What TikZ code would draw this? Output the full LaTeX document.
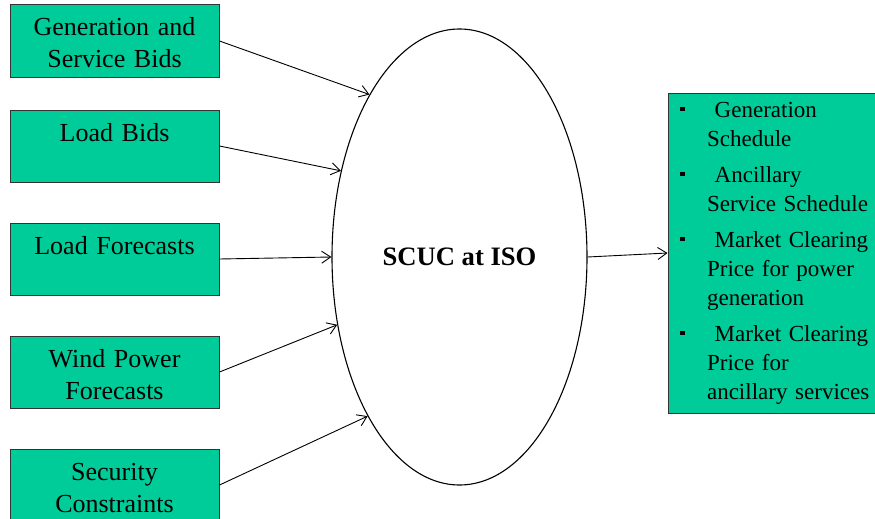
\documentclass[tikz,border=0pt]{standalone}
\usepackage{fontspec}
\setmainfont{Liberation Serif}
\usepackage{tikz}
\usetikzlibrary{shapes.geometric,arrows.meta}
\usetikzlibrary{positioning}
\definecolor{boxgreen}{RGB}{0,204,153}
\tikzstyle{arrow} = [line width=0.9pt,-{Straight Barb[length=9pt,width=12pt]}]
\tikzstyle{inbox} = [
    rectangle, minimum width=209pt, minimum height=72pt, text width=195pt, align=center,
    inner xsep=7pt, inner ysep=0pt, text height=31pt, text depth=41pt,
    draw=black!80, line width=1pt, fill=boxgreen,
    font=\fontsize{26}{32}\selectfont]
\tikzstyle{outbox} = [
    rectangle, minimum width=207pt, minimum height=320pt, text width=183pt, align=left,
    inner xsep=12pt, inner ysep=6pt, draw=black!80, line width=1pt, fill=boxgreen,
    font=\fontsize{23}{29}\selectfont]
\newcommand{\bul}[1]{\mbox{\makebox[27pt][l]{\rule[6pt]{4.5pt}{4.5pt}}\ #1}}
\newcommand{\cont}[1]{\mbox{\hspace*{27pt}#1}}

\begin{document}
\begin{tikzpicture}[x=1pt,y=-1pt]
\useasboundingbox (0,0) rectangle (875,519);
\node (scuc) [ellipse, draw, line width=1.1pt, minimum width=255pt, minimum height=456pt,
    inner sep=0pt, font=\fontsize{26.6}{32}\selectfont\bfseries] at (459.5,257) {SCUC at ISO};

\node (gen-bids) [inbox] at (114.5,41) {Generation and\\Service Bids};
\node (load-bids) [inbox, below=32pt of gen-bids] {Load Bids};
\node (load-fc) [inbox, below=40pt of load-bids] {Load Forecasts};
\node (wind-fc) [inbox, below=40pt of load-fc] {Wind Power\\Forecasts};
\node (security) [inbox, below=40pt of wind-fc] {Security\\Constraints};

\node (results) [outbox, right=80pt of scuc, yshift=4pt] {
    \bul{Generation}\\ \cont{Schedule}\\[7pt]
    \bul{Ancillary}\\ \cont{Service Schedule}\\[7pt]
    \bul{Market Clearing}\\ \cont{Price for power}\\ \cont{generation}\\[7pt]
    \bul{Market Clearing}\\ \cont{Price for}\\ \cont{ancillary services}
};

\draw [arrow] (gen-bids.east) -- (scuc.119.5);
\draw [arrow] (load-bids.east) -- (scuc.144.5);
\draw [arrow] (load-fc.east) -- (scuc.west);
\draw [arrow] (wind-fc.east) -- (scuc.209.7);
\draw [arrow] (security.east) -- (scuc.240.7);
\draw [arrow] (scuc.east) -- (results.west);
\end{tikzpicture}
\end{document}
